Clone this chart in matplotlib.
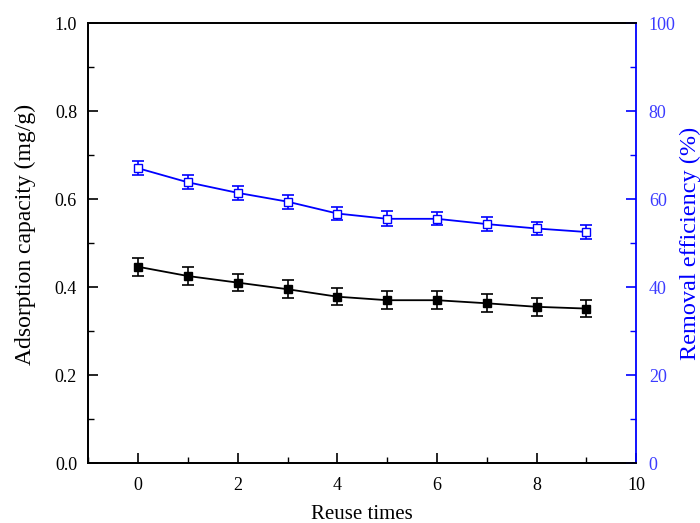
import matplotlib
matplotlib.use("Agg")
import matplotlib.pyplot as plt
from matplotlib.ticker import MultipleLocator

plt.rcParams['font.family'] = ['Liberation Serif', 'DejaVu Serif']

reuse = [0, 1, 2, 3, 4, 5, 6, 7, 8, 9]
capacity = [0.446, 0.425, 0.410, 0.395, 0.378, 0.370, 0.370, 0.363, 0.355, 0.351]
capacity_err = [0.020, 0.020, 0.020, 0.020, 0.020, 0.020, 0.020, 0.020, 0.020, 0.020]
efficiency = [67.0, 63.8, 61.4, 59.4, 56.7, 55.5, 55.5, 54.3, 53.3, 52.5]
efficiency_err = [1.6, 1.6, 1.6, 1.6, 1.5, 1.7, 1.5, 1.6, 1.5, 1.6]

fig = plt.figure(figsize=(7, 5.23), dpi=100)
ax = fig.add_axes([0.126, 0.1147, 0.783, 0.8413])
ax2 = ax.twinx()

ax.errorbar(reuse, capacity, yerr=capacity_err, color='black', marker='s',
            markersize=6, capsize=4.5, elinewidth=1.2, capthick=1.2, linewidth=1.3)
ax2.errorbar(reuse, efficiency, yerr=efficiency_err, color='blue', marker='s',
             markersize=6, markerfacecolor='white', markeredgecolor='blue',
             capsize=4.5, elinewidth=1.2, capthick=1.2, linewidth=1.3)

ax.set_xlim(-1, 10)
ax.set_ylim(0, 1.0)
ax2.set_ylim(0, 100)
ax.xaxis.set_major_locator(MultipleLocator(2))
ax.xaxis.set_minor_locator(MultipleLocator(1))
ax.yaxis.set_major_locator(MultipleLocator(0.2))
ax.yaxis.set_minor_locator(MultipleLocator(0.1))
ax2.yaxis.set_major_locator(MultipleLocator(20))
ax2.yaxis.set_minor_locator(MultipleLocator(10))
ax.yaxis.set_major_formatter(plt.FuncFormatter(lambda v, p: f"{v:.1f}"))

ax.tick_params(axis='x', which='major', direction='in', length=7, width=1.2,
               labelsize=13, pad=10, top=False)
ax.tick_params(axis='y', which='major', direction='in', length=7, width=1.2,
               labelsize=13, pad=8, right=False)
ax.tick_params(axis='both', which='minor', direction='in', length=4, width=1.0,
               top=False, right=False)
ax2.tick_params(axis='y', which='major', direction='in', length=7, width=1.2,
                labelsize=13, pad=9, colors='blue', labelcolor='#3b3bff')
ax2.tick_params(axis='y', which='minor', direction='in', length=4, width=1.0, colors='blue')

for s in ['left', 'bottom', 'top']:
    ax.spines[s].set_linewidth(1.3)
    ax2.spines[s].set_linewidth(1.3)
ax2.spines['right'].set_color('blue')
ax2.spines['right'].set_linewidth(1.3)
ax.spines['right'].set_visible(False)

ax.set_xlabel('Reuse times', fontsize=15)
ax.set_ylabel('Adsorption capacity (mg/g)', fontsize=17)
ax2.set_ylabel('Removal efficiency (%)', fontsize=17.5, color='blue', rotation=90)
# label positions in axes-fraction coordinates
ax.xaxis.set_label_coords(0.5, -0.095)
ax.yaxis.set_label_coords(-0.096, 0.52)
ax2.yaxis.set_label_coords(1.079, 0.5)

fig.savefig('out.png', dpi=100)
